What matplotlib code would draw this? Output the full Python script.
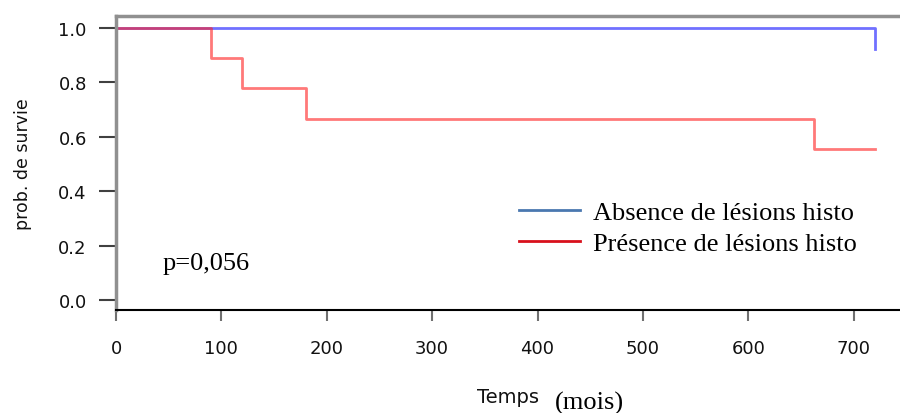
import numpy as np
import matplotlib.pyplot as plt

# survie (Kaplan-Meier), temps en mois
absence_t = [0, 720, 720]
absence_s = [1.0, 1.0, 0.923]
presence_t = [0, 90, 120, 180, 662, 720]
presence_s = [1.0, 0.889, 0.778, 0.667, 0.556, 0.556]

x_ticks = [0, 100, 200, 300, 400, 500, 600, 700]
y_ticks = [0.0, 0.2, 0.4, 0.6, 0.8, 1.0]
legend_labels = ["Absence de lésions histo", "Présence de lésions histo"]

fig = plt.figure(figsize=(9, 4.14), dpi=100)
ax = fig.add_axes([116 / 900, 103 / 414, 1 - 116 / 900, 294 / 414])

ax.step(absence_t, absence_s, where="post", color="#3333ff", alpha=0.7, lw=2)
ax.step(presence_t, presence_s, where="post", color="#ff2020", alpha=0.6, lw=2)

ax.set_xlim(0, 744)
ax.set_ylim(-0.037, 1.044)

for s in ["top", "left"]:
    ax.spines[s].set_color("#909090")
    ax.spines[s].set_linewidth(2.5)
ax.spines["bottom"].set_color("black")
ax.spines["bottom"].set_linewidth(1.5)
ax.spines["right"].set_visible(False)

ax.set_xticks(x_ticks)
ax.set_xticklabels([str(v) for v in x_ticks], family="DejaVu Sans", fontsize=13, color="#111111")
ax.set_yticks(y_ticks)
ax.set_yticklabels(["%.1f" % v for v in y_ticks], family="DejaVu Sans", fontsize=13, color="#111111")
ax.tick_params(axis="x", length=8, width=1.5, color="#707070", pad=13)
ax.tick_params(axis="y", length=12, width=1.5, color="#404040", pad=9)

ax.set_ylabel("prob. de survie", family="DejaVu Sans", fontsize=12.5, labelpad=19, color="#111111")

h1, = ax.plot([], [], color="#4a78b0", lw=2)
h2, = ax.plot([], [], color="#d8101c", lw=2)
ax.legend([h1, h2], legend_labels, frameon=False, loc="center left",
          bbox_to_anchor=(0.514, 0.28), borderaxespad=0, borderpad=0,
          handlelength=2.3, handletextpad=0.5, labelspacing=0.28,
          prop={"family": "Liberation Serif", "size": 19})

ax.text(0.059, 0.16, "p=0,056", transform=ax.transAxes,
        family="Liberation Serif", fontsize=19, va="center")

fig.text(477 / 900, 1 - 398 / 414, "Temps", family="DejaVu Sans",
         fontsize=14, va="center", ha="left", color="#111111")
fig.text(555 / 900, 1 - 403 / 414, "(mois)", family="Liberation Serif",
         fontsize=19, va="center", ha="left")

fig.savefig("out.png", dpi=100)
